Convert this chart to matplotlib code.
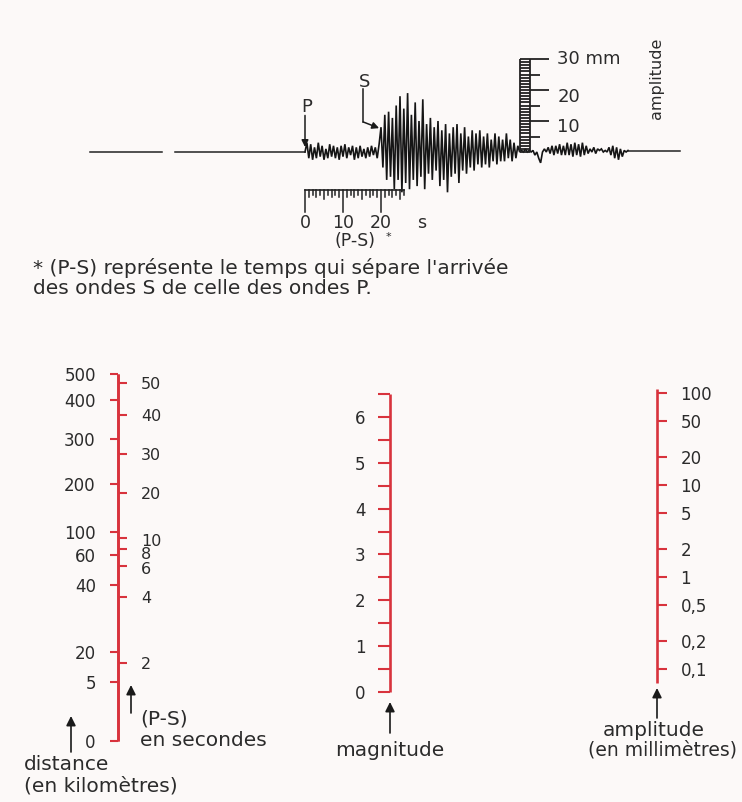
import numpy as np
import matplotlib
matplotlib.use("Agg")
import matplotlib.pyplot as plt
from matplotlib.patches import FancyArrowPatch
from matplotlib.ticker import NullLocator, FixedLocator
from matplotlib.transforms import ScaledTranslation

# ---------------- data ----------------
# Seismogram trace (mm of amplitude), sampled every 0.5 s starting at the P arrival (t = 0 s)
trace_dt = 0.5
p_coda_mm = [0, 3, -2, 2.5, -2.5, 1.5, -2, 3, -1.5, 2, -2.5, 1, -2, 2.5, -1.5, 2, -2, 1.5, -2.5, 2,
             -1.5, 2.5, -2, 1.5, -1, 2, -2.5, 1.5, -2, 2, -1.5, 1, -2, 1.5, -1.5, 2, -1, 1.5, -2, 2.5]
s_burst_mm = [8, -5, 12, -9, 13, -8, 11, -12, 15, -9,
              18, -13, 14, -10, 19, -12, 12, -9, 16, -11,
              10, -8, 17, -12, 9, -7, 11, -9, 8, -6,
              10, -11, 7, -9, 9, -13, 6, -8, 8, -7,
              9, -10, 6, -6, 8, -7, 5, -5, 7, -6,
              6, -4, 7, -5, 5, -4, 6, -5, 4, -3,
              6, -4, 5, -3, 4, -3, 6, -2, 4, -3,
              3, -2, 2, 0]
late_coda_mm = [0.5, 0, 1, 0, 0.5, 0, 0.5, -1, 0, -2, -3.5, 0, 1, 0, 1.5, -0.5, 2, -1, 2, -0.5,
                2.5, -1, 2, -1, 3, -1, 2.5, -1.5, 3, -1, 2.5, -1.5, 3, -1, 2, -0.5, 1, 0, 1.5, -0.5,
                1, 0.5, 1, 0, 0.5, 0, 1.5, -1, 2, -2, 1.5, -2.5, 1, -1.5, 0.5, 0, 0.5]
# quiet record before P and after the coda: (start s, end s, mm)
quiet_segments = [(-56.6, -37.6, 0.0), (-34.2, 0.0, 0.0), (85.0, 98.7, 0.3)]

ruler_mm = list(range(0, 31))          # amplitude ruler graduations (mm)
ruler_labels = ["30 mm", "20", "10"]
timebar_s = list(range(0, 27))         # time ruler graduations (s)
timebar_labels = ["0", "10", "20"]

# Nomogram scales
dist_ticks = [0, 5, 20, 40, 60, 100, 200, 300, 400, 500]          # km
dist_scale = [0, 0.161, 0.2425, 0.425, 0.507, 0.5695, 0.700, 0.823, 0.929, 1.0]
ps_knots = [0, 2, 4, 6, 8, 10, 20, 30, 40, 50, 52.8]               # s
ps_scale = [0, 0.2125, 0.392, 0.477, 0.523, 0.553, 0.676, 0.782, 0.888, 0.9755, 1.0]
ps_ticks = [2, 4, 6, 8, 10, 20, 30, 40, 50]
mag_ticks = [0, 1, 2, 3, 4, 5, 6]
mag_minor = [0.5, 1.5, 2.5, 3.5, 4.5, 5.5, 6.5]
amp_ticks = [0.1, 0.2, 0.5, 1, 2, 5, 10, 20, 50, 100]
amp_labels = ["0,1", "0,2", "0,5", "1", "2", "5", "10", "20", "50", "100"]

# ---------------- style ----------------
W, H, DPI = 742, 802, 100
BG = "#fcf9f8"
RED = "#d8333d"
INK = "#2b2b2b"
plt.rcParams["font.family"] = ["DejaVu Sans"]

fig = plt.figure(figsize=(W / DPI, H / DPI), dpi=DPI, facecolor=BG)


def box(x0, y0, x1, y1):
    return [x0 / W, 1 - y1 / H, (x1 - x0) / W, (y1 - y0) / H]


def fp(x, y):
    return (x / W, 1 - y / H)


# ---------------- seismogram ----------------
P_PX, BASE_PY, PX_PER_S, PX_PER_MM = 305, 152, 3.8, 3.1
ax = fig.add_axes(box(0, 30, W, 300))
ax.set_xlim((0 - P_PX) / PX_PER_S, (W - P_PX) / PX_PER_S)
ax.set_ylim((BASE_PY - 300) / PX_PER_MM, (BASE_PY - 30) / PX_PER_MM)
ax.axis("off")

trace = np.array(p_coda_mm + s_burst_mm + late_coda_mm, dtype=float)
t = np.arange(len(trace)) * trace_dt
ax.plot(t, trace, color="#151515", lw=1.2, solid_joinstyle="miter")
for a, b, v in quiet_segments:
    ax.plot([a, b], [v, v], color="#222222", lw=1.1)

# amplitude ruler
rx0, rx1 = 56.6, 59.2
ax.hlines(ruler_mm, rx0, rx1, color="#222222", lw=1.3)
ax.vlines([rx0, rx1], 0, 30, color="#222222", lw=1.3)
ax.hlines([m for m in ruler_mm if m % 10 == 0 and m > 0], rx1, 64.2, color="#222222", lw=1.3)
ax.hlines([m for m in ruler_mm if m % 10 == 5], rx1, 61.8, color="#222222", lw=1.3)
for lab, mm in zip(ruler_labels, [30, 17.7, 8.1]):
    ax.text(66.4, mm, lab, ha="left", va="center", fontsize=13, color=INK)
ax.text(92.4, 23.9, "amplitude", rotation=90, ha="center", va="center", fontsize=11.5, color=INK)

# time ruler
ty = (BASE_PY - 190) / PX_PER_MM
ax.plot([timebar_s[0], timebar_s[-1]], [ty, ty], color="#222222", lw=1.2)
for s in timebar_s:
    if s % 10 == 0:
        L = 22
    elif s % 5 == 0:
        L = 9
    else:
        L = 5 + (s % 2) * 2
    ax.plot([s, s], [ty, ty - L / PX_PER_MM], color="#222222", lw=1.1)
for lab, s in zip(timebar_labels, [0, 10, 20]):
    ax.text(s, -22.9, lab, ha="center", va="center", fontsize=12.5, color=INK)
ax.text(30.8, -22.9, "s", ha="center", va="center", fontsize=12.5, color=INK)
ax.text(13.2, -28.6, "(P-S)", ha="center", va="center", fontsize=12.5, color=INK)
ax.text(21.9, -27.4, "*", ha="center", va="center", fontsize=8, color=INK)

# P and S markers
ax.text(0.5, 14.6, "P", ha="center", va="center", fontsize=13, color=INK)
ax.annotate("", xy=(0, 1.6), xytext=(0, 11.8),
            arrowprops=dict(arrowstyle="-|>", color="#1a1a1a", lw=1.1, mutation_scale=10,
                            shrinkA=0, shrinkB=0))
ax.text(15.8, 22.6, "S", ha="center", va="center", fontsize=13, color=INK)
ax.plot([15.3, 15.3], [20.4, 9.7], color="#1a1a1a", lw=1.1)
ax.annotate("", xy=(19.5, 7.7), xytext=(15.3, 9.7),
            arrowprops=dict(arrowstyle="-|>", color="#1a1a1a", lw=1.1, mutation_scale=10,
                            shrinkA=0, shrinkB=0))

fig.text(*fp(33, 268), "* (P-S) représente le temps qui sépare l'arrivée",
         ha="left", va="center", fontsize=14.5, color=INK)
fig.text(*fp(33, 289), "des ondes S de celle des ondes P.",
         ha="left", va="center", fontsize=14.5, color=INK)


# ---------------- nomogram ----------------
def nomo_axis(rect, side, lim, functions=None, log=False):
    a = fig.add_axes(rect)
    a.patch.set_visible(False)
    for sp in a.spines.values():
        sp.set_visible(False)
    a.spines[side].set_visible(True)
    a.spines[side].set_color(RED)
    a.spines[side].set_linewidth(1.9)
    a.spines[side].set_capstyle("butt")
    a.xaxis.set_visible(False)
    if functions is not None:
        a.set_yscale("function", functions=functions)
    elif log:
        a.set_yscale("log")
    a.set_ylim(*lim)
    a.yaxis.set_ticks_position(side)
    a.yaxis.set_minor_locator(NullLocator())
    return a


def interp_fns(knots, pos):
    k = np.asarray(knots, float)
    p = np.asarray(pos, float)
    return (lambda v: np.interp(v, k, p), lambda s: np.interp(s, p, k))


tick_kw = dict(direction="out", color=RED, width=1.5, labelcolor=INK, labelsize=12)

ax_d = nomo_axis(box(118, 374, 200, 741), "left", (0, 500), functions=interp_fns(dist_ticks, dist_scale))
ax_d.set_yticks(dist_ticks)
ax_d.set_yticklabels([str(v) for v in dist_ticks])
ax_d.tick_params(axis="y", length=6, pad=10, **tick_kw)

ax_ps = nomo_axis(box(30, 374, 118, 741), "right", (0, 52.8), functions=interp_fns(ps_knots, ps_scale))
ax_ps.set_yticks(ps_ticks)
ax_ps.set_yticklabels([str(v) for v in ps_ticks])
ax_ps.tick_params(axis="y", length=6.5, pad=10, labelsize=11.5,
                  **{k: v for k, v in tick_kw.items() if k != "labelsize"})
# the reference stacks the crowded labels 10 / 8 / 6 slightly below their ticks
for lab, dy in zip(ax_ps.get_yticklabels(), [0, 0, -1.2, -3.0, -1.2, 0, 0, 0, 0]):
    if dy:
        lab.set_transform(lab.get_transform() + ScaledTranslation(0, dy / 72, fig.dpi_scale_trans))

ax_m = nomo_axis(box(390, 394, 470, 692), "left", (0, 6.5))
ax_m.set_yticks(mag_ticks)
ax_m.set_yticklabels([str(v) for v in mag_ticks])
ax_m.yaxis.set_minor_locator(FixedLocator(mag_minor))
ax_m.tick_params(axis="y", which="both", length=8.5, pad=9, **tick_kw)

ax_a = nomo_axis(box(570, 389, 657, 683), "right", (0.0705, 110), log=True)
ax_a.set_yticks(amp_ticks)
ax_a.set_yticklabels(amp_labels)
ax_a.yaxis.set_minor_locator(NullLocator())
ax_a.tick_params(axis="y", length=7, pad=10, **tick_kw)


def arrow(x, y_tip, y_tail):
    ar = FancyArrowPatch(fp(x, y_tail), fp(x, y_tip), transform=fig.transFigure,
                         arrowstyle="-|>", mutation_scale=14, color="#1a1a1a", lw=1.2,
                         shrinkA=0, shrinkB=0)
    fig.add_artist(ar)


arrow(71, 716, 752)
arrow(131, 685, 713)
arrow(390, 702, 733)
arrow(657, 688, 718)

lab_kw = dict(fontsize=14.5, color=INK, va="center")
fig.text(*fp(24, 765), "distance", ha="left", **lab_kw)
fig.text(*fp(24, 786), "(en kilomètres)", ha="left", **lab_kw)
fig.text(*fp(140, 719), "(P-S)", ha="left", **lab_kw)
fig.text(*fp(140, 740), "en secondes", ha="left", **lab_kw)
fig.text(*fp(390, 751), "magnitude", ha="center", **lab_kw)
fig.text(*fp(654, 730), "amplitude", ha="center", **lab_kw)
fig.text(*fp(737, 750), "(en millimètres)", ha="right", fontsize=13.5, color=INK, va="center")

fig.savefig("out.png", dpi=DPI, facecolor=BG)
